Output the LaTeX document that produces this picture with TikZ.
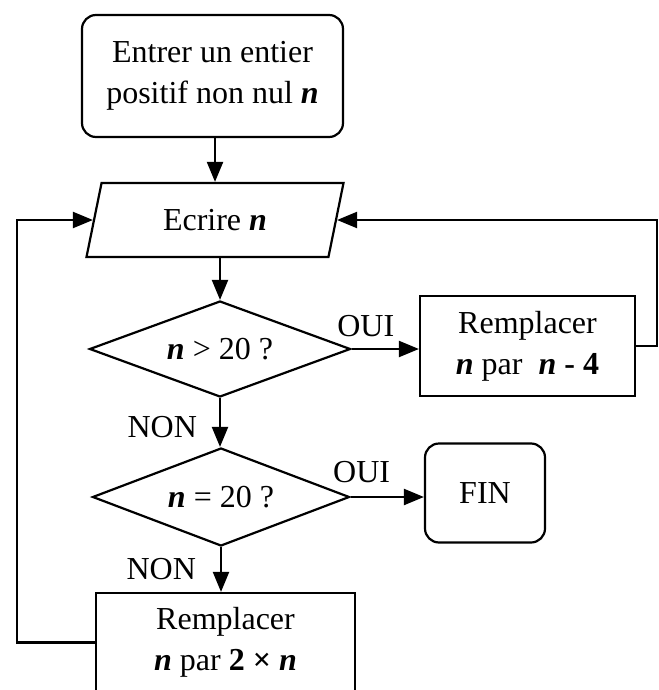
\documentclass[tikz,border=0pt]{standalone}
\usepackage{fontspec}
\setmainfont{Liberation Serif}
\usetikzlibrary{positioning, shapes.geometric, arrows.meta}
\tikzstyle{flowChart} = [x = 1pt, y = -1pt, line width = 2.2pt, every node/.style = {font = \fontsize{32}{41}\selectfont}]
\tikzstyle{terminalBox} = [draw, rounded corners = 14pt, align = center, inner sep = 0pt]
\tikzstyle{actionBox} = [draw, align = center, inner sep = 0pt]
\tikzstyle{ioBox} = [draw, trapezium, trapezium left angle = 55, trapezium right angle = 125, trapezium stretches body, inner sep = 0pt]
\tikzstyle{testBox} = [draw, diamond, aspect = 2.7, inner sep = 0pt]
\tikzstyle{flowArrow} = [-{Triangle[length = 20pt, width = 16pt]}]
\tikzstyle{answerText} = [inner sep = 0pt]
\newcommand{\nVar}{\textbf{\textit{n}}}

\begin{document}
\begin{tikzpicture}[flowChart]
  \useasboundingbox (0, 0) rectangle (658, 690);

  \node [terminalBox, minimum width = 261, minimum height = 122] (start) at (212.5, 76) {Entrer un entier\\positif non nul \nVar};
  \node [ioBox, minimum width = 257, minimum height = 74] (write) at (215, 220) {Ecrire \nVar};
  \node [testBox, minimum width = 261, minimum height = 96] (greater) at (220, 349) {\nVar{} > 20 ?};
  \node [actionBox, minimum width = 215, minimum height = 100] (minusBox) at (527.5, 346) {Remplacer\\\nVar{} par \ \nVar{} \textbf{- 4}};
  \node [testBox, minimum width = 257, minimum height = 98] (equal) at (221, 497) {\nVar{} = 20 ?};
  \node [terminalBox, minimum width = 120, minimum height = 99] (fin) at (485, 493) {FIN};
  \node [actionBox, minimum width = 259, minimum height = 99] (doubleBox) at (225.5, 642.5) {Remplacer\\\nVar{} par \textbf{2 ×} \nVar};

  % main column
  \draw [flowArrow] (start.south -| write.north) -- (write.north);
  \draw [flowArrow] (write.south -| greater.north) -- (greater.north);
  \draw [flowArrow] (greater.south) -- node [answerText, left = 22pt, pos = .6] {NON} (greater.south |- equal.north);
  \draw [flowArrow] (equal.south) -- node [answerText, left = 24pt, pos = .48] {NON} (equal.south |- doubleBox.north);

  % yes branches
  \draw [flowArrow] (greater.east) -- node [answerText, above = 11pt, pos = .21] {OUI} (greater.east -| minusBox.west);
  \draw [flowArrow] (equal.east) -- node [answerText, above = 13pt, pos = .15] {OUI} (equal.east -| fin.west);

  % loops back
  \draw [flowArrow] (minusBox.east) -- ++(21, 0) |- (write.east);
  \draw [flowArrow] (doubleBox.west) -- ++(-78, 0) |- (write.west);
\end{tikzpicture}
\end{document}
